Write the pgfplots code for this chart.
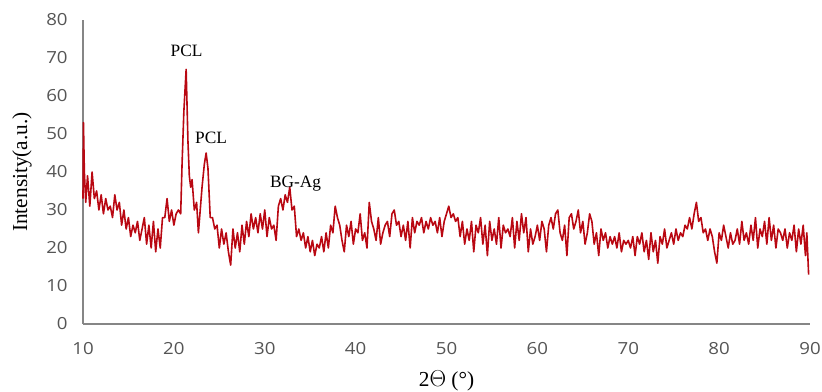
\documentclass[border=0pt]{standalone}
\usepackage{pgfplots}
\pgfplotsset{compat=1.18}
\usepackage{fontspec}
\setmainfont{Liberation Serif}
\newfontfamily\tickfont[FakeStretch=1.12]{Open Sans}
\definecolor{xrd}{RGB}{185,8,18}
\definecolor{axgray}{RGB}{134,134,134}
\definecolor{ticktext}{RGB}{85,85,85}
\begin{document}
\begin{tikzpicture}
\begin{axis}[
  scale only axis,
  width=545.25pt, height=228pt,
  xmin=10, xmax=90, ymin=0, ymax=80,
  xtick={10,20,...,90}, ytick={0,10,...,80},
  axis x line=bottom, axis y line=left,
  axis line style={draw=axgray, line width=0.8pt, -},
  major tick length=0pt,
  tick label style={font=\tickfont\fontsize{12.5}{14}\selectfont, text=ticktext},
  /pgf/number format/assume math mode=true,
  xticklabel style={yshift=-10.5pt},
  yticklabel style={xshift=-8pt},
  xlabel={2$\Theta$ (°)},
  ylabel={Intensity(a.u.)},
  every axis x label/.style={at={(axis description cs:0.5,-0.1875)}, anchor=center, font=\fontsize{16}{18}\selectfont},
  every axis y label/.style={at={(axis description cs:-0.084,0.5)}, anchor=center, rotate=90, font=\fontsize{16}{18}\selectfont},
  clip=false,
]
\addplot[color=xrd, line width=1.2pt, line join=round] coordinates {
(10.00,33)(10.05,53)(10.15,40)(10.3,32)(10.5,39)(10.75,31)(11.0,40)(11.25,33)(11.5,35)(11.75,30)
(12.0,34)(12.25,29)(12.5,33)(12.75,30)(13.0,31)(13.25,28)(13.5,34)(13.75,30)
(14.0,32)(14.25,26)(14.5,30)(14.75,25)(15.0,28)(15.25,23)(15.5,26)(15.75,24)
(16.0,27)(16.25,22)(16.5,25)(16.75,28)(17.0,21)(17.25,26)(17.5,20)(17.75,27)
(18.0,19)(18.25,25)(18.5,20)(18.75,28)(19.0,28)(19.25,33)(19.5,27)(19.75,30)
(20.0,26)(20.25,29)(20.5,30)(20.75,29)(20.9,42)(21.1,56)(21.35,67)(21.55,48)(21.7,39)(21.85,36)
(22.0,38)(22.25,30)(22.5,32)(22.7,24)(22.9,30)(23.1,36)(23.35,42)(23.55,45)(23.75,41)
(24.0,28)(24.25,28)(24.5,25)(24.75,26)(25.0,20)(25.25,25)(25.5,21)(25.75,24)
(26.0,19)(26.25,15.5)(26.5,25)(26.75,20)(27.0,24)(27.25,19)(27.5,26)(27.75,21)
(28.0,27)(28.25,23)(28.5,29)(28.75,25)(29.0,28)(29.25,24)(29.5,29)(29.75,25)
(30.0,30)(30.25,23)(30.5,28)(30.75,25)(31.0,26)(31.25,22)(31.5,31)(31.75,33)
(32.0,30)(32.25,34)(32.5,32)(32.75,36)(33.0,30)(33.25,31)(33.5,23)(33.75,25)
(34.0,22)(34.25,24)(34.5,20)(34.75,23)(35.0,19)(35.25,22)(35.5,18)(35.75,21)
(36.0,20)(36.25,23)(36.5,19)(36.75,24)(37.0,20)(37.25,26)(37.5,24)(37.75,31)
(38.0,28)(38.25,26)(38.5,22)(38.75,19)(39.0,26)(39.25,23)(39.5,27)(39.75,21)
(40.0,25)(40.25,24)(40.5,29)(40.75,22)(41.0,24)(41.25,20)(41.5,32)(41.75,27)
(42.0,25)(42.25,22)(42.5,28)(42.75,21)(43.0,24)(43.25,26)(43.5,27)(43.75,23)
(44.0,29)(44.25,30)(44.5,26)(44.75,27)(45.0,23)(45.25,26)(45.5,22)(45.75,27)
(46.0,20)(46.25,28)(46.5,24)(46.75,27)(47.0,26)(47.25,28)(47.5,24)(47.75,27)
(48.0,25)(48.25,28)(48.5,26)(48.75,27)(49.0,24)(49.25,28)(49.5,23)(49.75,27)
(50.0,29)(50.25,31)(50.5,28)(50.75,29)(51.0,27)(51.25,28)(51.5,23)(51.75,27)
(52.0,21)(52.25,25)(52.5,22)(52.75,27)(53.0,19)(53.25,26)(53.5,24)(53.75,28)
(54.0,21)(54.25,26)(54.5,18)(54.75,27)(55.0,22)(55.25,25)(55.5,21)(55.75,28)
(56.0,20)(56.25,26)(56.5,24)(56.75,25)(57.0,23)(57.25,28)(57.5,20)(57.75,27)
(58.0,22)(58.25,29)(58.5,24)(58.75,28)(59.0,19)(59.25,25)(59.5,21)(59.75,23)
(60.0,26)(60.25,22)(60.5,27)(60.75,25)(61.0,19)(61.25,26)(61.5,28)(61.75,25)
(62.0,29)(62.25,30)(62.5,24)(62.75,22)(63.0,26)(63.25,18)(63.5,28)(63.75,29)
(64.0,25)(64.25,27)(64.5,30)(64.75,24)(65.0,27)(65.25,21)(65.5,24)(65.75,29)
(66.0,27)(66.25,21)(66.5,24)(66.75,18)(67.0,25)(67.25,22)(67.5,24)(67.75,20)
(68.0,23)(68.25,21)(68.5,23)(68.75,20)(69.0,24)(69.25,19)(69.5,22)(69.75,21)
(70.0,22)(70.25,20)(70.5,23)(70.75,18)(71.0,23)(71.25,21)(71.5,24)(71.75,19)
(72.0,22)(72.25,17)(72.5,24)(72.75,19)(73.0,22)(73.25,16)(73.5,23)(73.75,21)
(74.0,25)(74.25,20)(74.5,22)(74.75,24)(75.0,21)(75.25,25)(75.5,22)(75.75,24)
(76.0,23)(76.25,26)(76.5,25)(76.75,28)(77.0,25)(77.25,29)(77.5,32)(77.75,27)
(78.0,28)(78.25,24)(78.5,25)(78.75,22)(79.0,25)(79.25,23)(79.5,19)(79.75,16)
(80.0,24)(80.25,22)(80.5,26)(80.75,23)(81.0,20)(81.25,24)(81.5,21)(81.75,22)
(82.0,25)(82.25,21)(82.5,27)(82.75,22)(83.0,24)(83.25,21)(83.5,26)(83.75,22)
(84.0,28)(84.25,20)(84.5,25)(84.75,23)(85.0,27)(85.25,21)(85.5,28)(85.75,22)
(86.0,26)(86.25,20)(86.5,25)(86.75,24)(87.0,22)(87.25,25)(87.5,20)(87.75,24)
(88.0,22)(88.25,26)(88.5,19)(88.75,25)(89.0,21)(89.25,26)(89.5,18)(89.65,24)(89.85,13)
};
\node[font=\fontsize{13}{15}\selectfont] at (axis cs:21.4,72) {PCL};
\node[font=\fontsize{13}{15}\selectfont] at (axis cs:24.1,49) {PCL};
\node[font=\fontsize{13}{15}\selectfont] at (axis cs:33.4,37) {BG-Ag};
\end{axis}
\pgfresetboundingbox
\path ([xshift=-62.25pt,yshift=-51pt]current axis.south west) rectangle ([xshift=9pt,yshift=15pt]current axis.north east);
\end{tikzpicture}
\end{document}
